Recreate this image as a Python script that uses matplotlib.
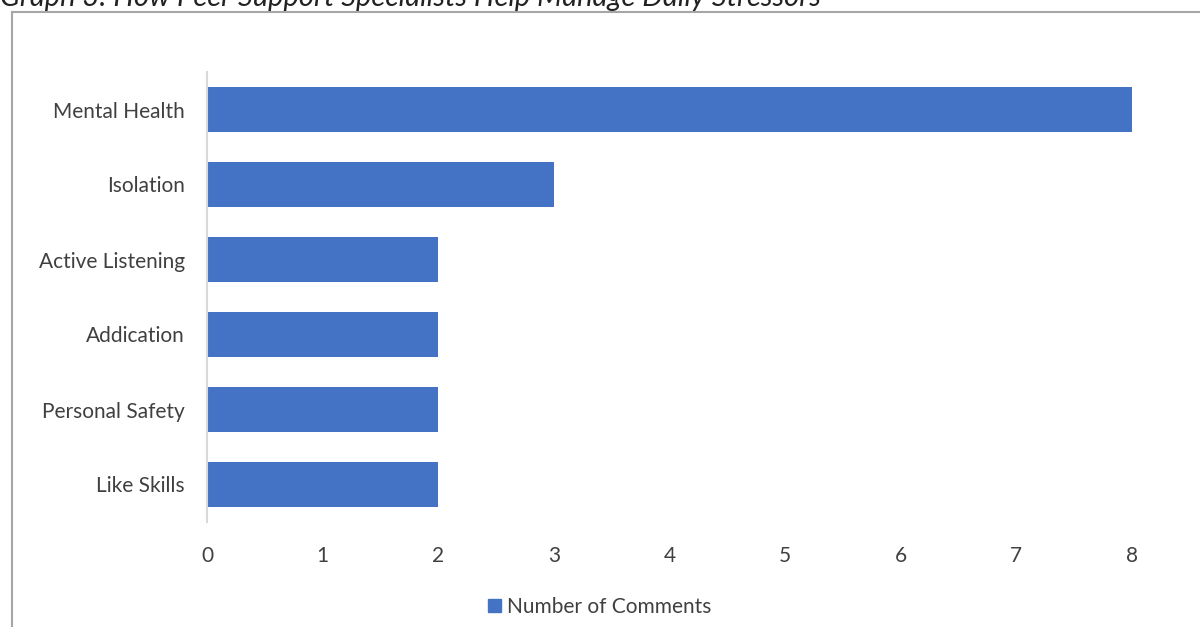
import matplotlib
matplotlib.use("Agg")
import matplotlib.pyplot as plt
from matplotlib.patches import Rectangle

categories = ["Mental Health", "Isolation", "Active Listening",
              "Addication", "Personal Safety", "Like Skills"]
comments = [8, 3, 2, 2, 2, 2]
x_ticks = [0, 1, 2, 3, 4, 5, 6, 7, 8]

bar_color = "#4472C4"
text_color = "#404040"
plt.rcParams["font.family"] = ["Lato", "DejaVu Sans"]

W, H = 1200, 627
fig = plt.figure(figsize=(W / 100, H / 100), dpi=100)
fig.patch.set_facecolor("white")

# chart frame, cut off on the right and bottom
fig.patches.append(Rectangle((12 / W, -0.2), 1.2, 1.2 - 12 / H,
                             transform=fig.transFigure, fill=False,
                             edgecolor="#A6A6A6", linewidth=1.5))

fig.text(0.0, 1 - 6 / H, "Graph 3: How Peer Support Specialists Help Manage Daily Stressors",
         fontsize=21, style="italic", color="#222222", ha="left", va="baseline")

left, right = 207 / W, 1132 / W
top, bottom = 1 - 72 / H, 1 - 522 / H
ax = fig.add_axes([left, bottom, right - left, top - bottom])

ypos = list(range(len(categories)))[::-1]
ax.barh(ypos, comments, height=0.61, color=bar_color)

ax.set_xlim(0, 8)
ax.set_ylim(-0.5, len(categories) - 0.5)
ax.set_yticks(ypos)
ax.set_yticklabels(categories)
ax.set_xticks(x_ticks)
ax.tick_params(axis="both", length=0, labelsize=15, colors=text_color)
ax.tick_params(axis="x", pad=17)
ax.tick_params(axis="y", pad=16)

for side in ["top", "right", "bottom"]:
    ax.spines[side].set_visible(False)
ax.spines["left"].set_color("#D9D9D9")
ax.spines["left"].set_linewidth(1.5)

handle = Rectangle((0, 0), 1, 1, color=bar_color)
fig.legend([handle], ["Number of Comments"], loc="center",
           bbox_to_anchor=(0.5, 1 - 607 / H), frameon=False, fontsize=15,
           handlelength=0.6, handleheight=0.6, handletextpad=0.3,
           labelcolor=text_color)

fig.savefig("out.png", dpi=100)
